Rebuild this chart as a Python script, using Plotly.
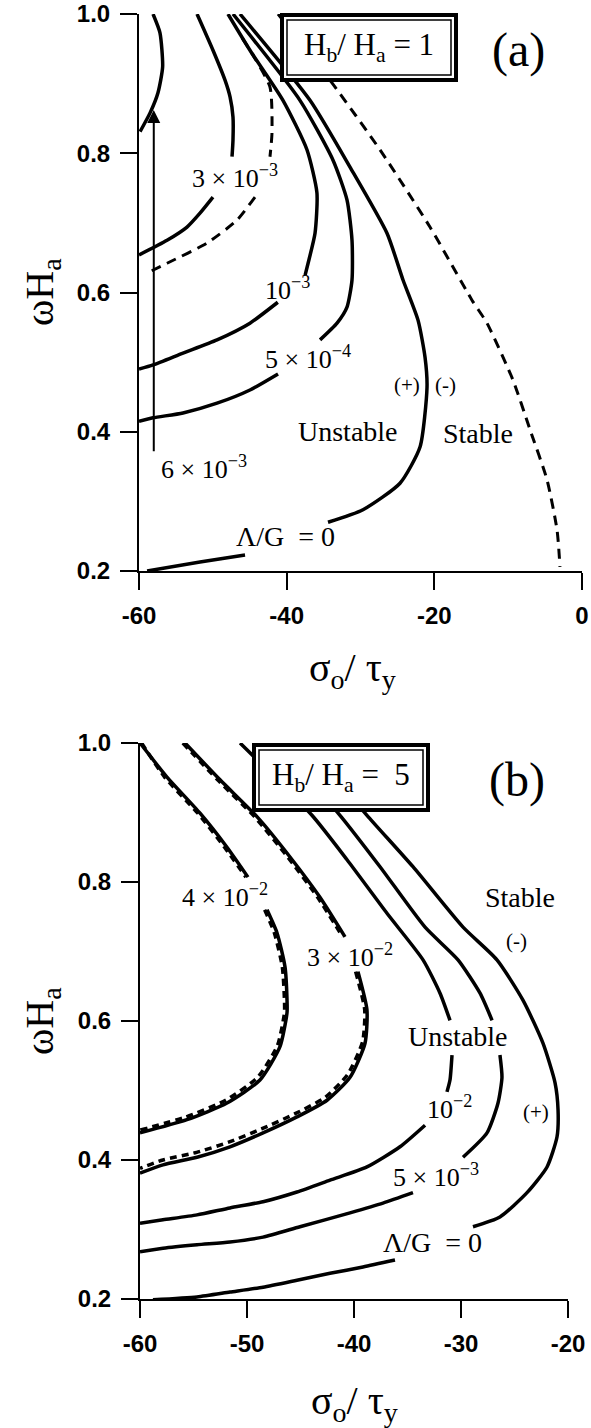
import plotly.graph_objects as go

W, H = 591, 1428

# ---- panel (a): Hb/Ha = 1 ----
a_6e3_x = [-58.1, -57.16, -56.8, -57.43, -58.5, -59.86]
a_6e3_y = [1.0, 0.973, 0.924, 0.887, 0.858, 0.831]

a_3e3_top_x = [-52.14, -49.98, -48.35, -47.67, -47.27, -47.27, -47.4]
a_3e3_top_y = [1.0, 0.948, 0.905, 0.881, 0.852, 0.819, 0.795]
a_3e3_bot_x = [-49.98, -51.74, -53.5, -56.2, -60.0]
a_3e3_bot_y = [0.737, 0.714, 0.694, 0.675, 0.654]

a_1e3_top_x = [-47.95, -44.97, -40.5, -37.25, -35.9, -36.16, -37.1, -37.5]
a_1e3_top_y = [1.0, 0.948, 0.876, 0.805, 0.743, 0.685, 0.642, 0.625]
a_1e3_bot_x = [-41.2, -44.97, -49.43, -54.04, -58.1, -60.0]
a_1e3_bot_y = [0.586, 0.556, 0.532, 0.513, 0.496, 0.490]

a_5e4_top_x = [-47.27, -38.2, -33.72, -31.83, -31.15, -31.15, -31.83, -33.18, -35.48]
a_5e4_top_y = [1.0, 0.876, 0.790, 0.733, 0.675, 0.618, 0.579, 0.556, 0.532]
a_5e4_bot_x = [-41.17, -44.97, -49.43, -54.04, -58.1, -60.0]
a_5e4_bot_y = [0.483, 0.460, 0.441, 0.427, 0.420, 0.415]

a_lg0_top_x = [-46.32, -36.84, -31.42, -26.41, -24.24, -22.2, -21.26, -20.99, -21.94, -24.65, -29.66, -34.4]
a_lg0_top_y = [1.0, 0.876, 0.780, 0.685, 0.618, 0.56, 0.507, 0.464, 0.378, 0.326, 0.288, 0.270]
a_lg0_bot_x = [-45.64, -51.74, -58.9]
a_lg0_bot_y = [0.223, 0.213, 0.200]

a_dash_l1_x = [-46.0, -44.97, -42.26, -41.99, -42.26]
a_dash_l1_y = [0.965, 0.948, 0.895, 0.829, 0.795]
a_dash_l2_x = [-44.29, -46.73, -50.79, -56.2, -58.9]
a_dash_l2_y = [0.737, 0.704, 0.671, 0.642, 0.628]

a_dash_r_x = [-41.17, -33.86, -27.36, -20.59, -14.9, -12.87, -9.34, -7.04, -4.74, -3.38, -2.98]
a_dash_r_y = [1.0, 0.901, 0.805, 0.694, 0.589, 0.556, 0.474, 0.403, 0.331, 0.259, 0.206]

arrow_x = [-58.0, -58.0]
arrow_y = [0.37, 0.862]

# ---- panel (b): Hb/Ha = 5 ----
b_4e2_top_x = [-60.0, -57.48, -54.39, -51.87, -49.91]
b_4e2_top_y = [1.0, 0.951, 0.899, 0.850, 0.807]
b_4e2_bot_x = [-48.13, -47.2, -46.45, -46.26, -46.26, -46.92, -48.79, -51.87, -55.61, -60.0]
b_4e2_bot_y = [0.760, 0.727, 0.678, 0.630, 0.612, 0.563, 0.515, 0.482, 0.458, 0.439]
b_4e2d_top_x = [-59.85, -57.7, -54.6, -52.1, -50.1]
b_4e2d_top_y = [1.0, 0.951, 0.899, 0.850, 0.807]
b_4e2d_bot_x = [-48.35, -47.45, -46.7, -46.5, -46.5, -47.15, -49.0, -52.0, -55.7, -60.0]
b_4e2d_bot_y = [0.760, 0.727, 0.678, 0.630, 0.612, 0.565, 0.519, 0.486, 0.462, 0.443]

b_3e2_top_x = [-55.79, -52.52, -49.07, -45.98, -43.18, -40.84]
b_3e2_top_y = [1.0, 0.947, 0.894, 0.836, 0.778, 0.721]
b_3e2_bot_x = [-39.63, -38.79, -38.97, -40.37, -42.52, -45.33, -48.5, -51.59, -54.67, -57.85, -60.0]
b_3e2_bot_y = [0.671, 0.616, 0.568, 0.519, 0.486, 0.462, 0.439, 0.419, 0.404, 0.393, 0.381]
b_3e2d_top_x = [-56.0, -52.75, -49.3, -46.2, -43.4, -41.05]
b_3e2d_top_y = [1.0, 0.947, 0.894, 0.836, 0.778, 0.721]
b_3e2d_bot_x = [-39.85, -39.0, -39.2, -40.6, -42.7, -45.45, -48.6, -51.65, -54.7, -57.85, -60.0]
b_3e2d_bot_y = [0.671, 0.616, 0.570, 0.523, 0.490, 0.467, 0.445, 0.426, 0.411, 0.400, 0.388]

b_1e2_p1_x = [-50.65, -43.93, -40.65, -36.92, -33.55, -31.96, -31.03]
b_1e2_p1_y = [1.0, 0.896, 0.832, 0.755, 0.688, 0.640, 0.601]
b_1e2_p2_x = [-30.84, -31.03, -31.31]
b_1e2_p2_y = [0.551, 0.515, 0.498]
b_1e2_p3_x = [-33.36, -35.7, -38.79, -42.24, -45.33, -48.5, -51.59, -54.67, -57.85, -60.0]
b_1e2_p3_y = [0.450, 0.419, 0.390, 0.371, 0.354, 0.340, 0.331, 0.321, 0.314, 0.309]

b_5e3_p1_x = [-47.38, -41.31, -37.57, -33.36, -30.28, -28.22, -27.1]
b_5e3_p1_y = [1.0, 0.896, 0.822, 0.735, 0.688, 0.640, 0.601]
b_5e3_p2_x = [-26.36, -26.17, -26.54, -27.57, -29.81]
b_5e3_p2_y = [0.551, 0.519, 0.482, 0.439, 0.404]
b_5e3_p3_x = [-34.49, -37.29, -40.37, -45.05, -48.5, -51.59, -54.67, -57.85, -60.0]
b_5e3_p3_y = [0.353, 0.338, 0.324, 0.304, 0.289, 0.282, 0.278, 0.273, 0.268]

b_lg0_p1_x = [-44.58, -38.79, -34.49, -29.81, -26.64, -24.21, -22.34, -21.21, -20.93, -21.03, -21.96, -23.83, -26.36, -28.88]
b_lg0_p1_y = [1.0, 0.896, 0.822, 0.735, 0.688, 0.630, 0.568, 0.511, 0.472, 0.433, 0.390, 0.353, 0.318, 0.304]
b_lg0_p2_x = [-36.17, -39.16, -42.24, -45.33, -48.5, -51.59, -54.67, -58.79]
b_lg0_p2_y = [0.256, 0.246, 0.237, 0.227, 0.217, 0.210, 0.203, 0.199]

y_ticks = [0.2, 0.4, 0.6, 0.8, 1.0]
y_ticktext = ["0.2", "0.4", "0.6", "0.8", "1.0"]
xa_ticks = [-60, -40, -20, 0]
xa_ticktext = ["-60", "-40", "-20", "0"]
xb_ticks = [-60, -50, -40, -30, -20]
xb_ticktext = ["-60", "-50", "-40", "-30", "-20"]


def px(x):
    return x / W


def py(y):
    return 1 - y / H


fig = go.Figure()


def line(x, y, panel, dash="solid", width=3.5):
    fig.add_trace(go.Scatter(
        x=x, y=y, mode="lines",
        xaxis="x" if panel == "a" else "x2",
        yaxis="y" if panel == "a" else "y2",
        line=dict(color="black", width=width, dash=dash, shape="spline", smoothing=0.6),
        hoverinfo="skip", showlegend=False))


# panel a
line(a_6e3_x, a_6e3_y, "a")
line(a_3e3_top_x, a_3e3_top_y, "a")
line(a_3e3_bot_x, a_3e3_bot_y, "a")
line(a_1e3_top_x, a_1e3_top_y, "a")
line(a_1e3_bot_x, a_1e3_bot_y, "a")
line(a_5e4_top_x, a_5e4_top_y, "a")
line(a_5e4_bot_x, a_5e4_bot_y, "a")
line(a_lg0_top_x, a_lg0_top_y, "a")
line(a_lg0_bot_x, a_lg0_bot_y, "a")
line(a_dash_l1_x, a_dash_l1_y, "a", dash="10px,7px", width=3)
line(a_dash_l2_x, a_dash_l2_y, "a", dash="10px,7px", width=3)
line(a_dash_r_x, a_dash_r_y, "a", dash="10px,7px", width=3)

# panel b
for xs, ys in [(b_4e2_top_x, b_4e2_top_y), (b_4e2_bot_x, b_4e2_bot_y),
               (b_3e2_top_x, b_3e2_top_y), (b_3e2_bot_x, b_3e2_bot_y),
               (b_1e2_p1_x, b_1e2_p1_y), (b_1e2_p2_x, b_1e2_p2_y), (b_1e2_p3_x, b_1e2_p3_y),
               (b_5e3_p1_x, b_5e3_p1_y), (b_5e3_p2_x, b_5e3_p2_y), (b_5e3_p3_x, b_5e3_p3_y),
               (b_lg0_p1_x, b_lg0_p1_y), (b_lg0_p2_x, b_lg0_p2_y)]:
    line(xs, ys, "b")
for xs, ys in [(b_4e2d_top_x, b_4e2d_top_y), (b_4e2d_bot_x, b_4e2d_bot_y),
               (b_3e2d_top_x, b_3e2d_top_y), (b_3e2d_bot_x, b_3e2d_bot_y)]:
    line(xs, ys, "b", dash="7px,5px", width=3.5)

serif = "Liberation Serif, Times New Roman, serif"
sans = "Liberation Sans, Arial, sans-serif"

axis_common = dict(showline=True, linewidth=2, linecolor="black", ticks="outside",
                   ticklen=17, tickwidth=2, tickcolor="black", showgrid=False,
                   zeroline=False, automargin=False, ticklabelstandoff=5,
                   tickfont=dict(family=sans, size=24, color="black", weight="bold"))

fig.update_layout(
    template="none",
    width=W, height=H, margin=dict(l=0, r=0, t=0, b=0, pad=0, autoexpand=False),
    paper_bgcolor="white", plot_bgcolor="white",
    xaxis=dict(domain=[px(139), px(582)], anchor="y", range=[-60, 0],
               tickvals=xa_ticks, ticktext=xa_ticktext, **axis_common),
    yaxis=dict(domain=[py(571), py(14)], anchor="x", range=[0.2, 1.0],
               tickvals=y_ticks, ticktext=y_ticktext, **axis_common),
    xaxis2=dict(domain=[px(140), px(568)], anchor="y2", range=[-60, -20],
                tickvals=xb_ticks, ticktext=xb_ticktext, **axis_common),
    yaxis2=dict(domain=[py(1299), py(743)], anchor="x2", range=[0.2, 1.0],
                tickvals=y_ticks, ticktext=y_ticktext, **axis_common),
)

# double-framed boxes
shapes = []
for (x0, y0, x1, y1) in [(280, 13, 458, 82), (252, 743, 430, 812)]:
    shapes.append(dict(type="rect", xref="paper", yref="paper", layer="above",
                       x0=px(x0 + 2), x1=px(x1 - 2), y0=py(y0 + 2), y1=py(y1 - 2),
                       line=dict(color="black", width=4), fillcolor="white"))
    shapes.append(dict(type="rect", xref="paper", yref="paper", layer="above",
                       x0=px(x0 + 7), x1=px(x1 - 7), y0=py(y0 + 7), y1=py(y1 - 7),
                       line=dict(color="black", width=1.5)))
fig.update_layout(shapes=shapes)


def label(text, x, y, panel, size=27):
    fig.add_annotation(text=text, x=x, y=y, showarrow=False,
                       xref="x" if panel == "a" else "x2",
                       yref="y" if panel == "a" else "y2",
                       xanchor="center", yanchor="middle",
                       font=dict(family=serif, size=size, color="black"))


def paper_text(text, x, y, size, angle=0):
    fig.add_annotation(text=text, x=px(x), y=py(y), xref="paper", yref="paper",
                       showarrow=False, xanchor="center", yanchor="middle",
                       textangle=angle,
                       font=dict(family=serif, size=size, color="black"))


# panel a labels
label("3 × 10<sup>−3</sup>", -47.0, 0.766, "a", 26)
label("10<sup>−3</sup>", -39.95, 0.606, "a", 26)
label("5 × 10<sup>−4</sup>", -37.1, 0.507, "a", 26)
label("(+)", -23.7, 0.467, "a", 21)
label("(-)", -18.55, 0.467, "a", 21)
label("Unstable", -31.7, 0.40, "a", 28)
label("Stable", -14.08, 0.398, "a", 28)
label("6 × 10<sup>−3</sup>", -51.2, 0.348, "a", 26)
label("Λ/G  = 0", -40.2, 0.249, "a", 28)

fig.add_annotation(x=arrow_x[1], y=arrow_y[1], ax=arrow_x[0], ay=arrow_y[0],
                   xref="x", yref="y", axref="x", ayref="y", text="",
                   showarrow=True, arrowhead=2, arrowsize=1.3, arrowwidth=2,
                   arrowcolor="black", standoff=0, startstandoff=0)

# panel b labels
label("4 × 10<sup>−2</sup>", -52.06, 0.781, "b", 26)
label("3 × 10<sup>−2</sup>", -40.37, 0.694, "b", 26)
label("Stable", -24.49, 0.778, "b", 28)
label("(-)", -24.77, 0.715, "b", 21)
label("Unstable", -30.28, 0.577, "b", 28)
label("10<sup>−2</sup>", -31.03, 0.476, "b", 26)
label("(+)", -22.99, 0.469, "b", 21)
label("5 × 10<sup>−3</sup>", -32.34, 0.378, "b", 26)
label("Λ/G  = 0", -32.71, 0.281, "b", 28)

# boxes text and panel letters
paper_text("H<sub>b</sub>/ H<sub>a</sub> = 1", 369, 47, 31)
paper_text("(a)", 518, 50, 48)
paper_text("H<sub>b</sub>/ H<sub>a</sub> =  5", 341, 777, 31)
paper_text("(b)", 517, 780, 48)

# axis titles
paper_text("ωH<sub>a</sub>", 42, 292, 40, -90)
paper_text("ωH<sub>a</sub>", 42, 1021, 40, -90)
paper_text("σ<sub>o</sub>/ τ<sub>y</sub>", 352, 670, 40)
paper_text("σ<sub>o</sub>/ τ<sub>y</sub>", 354, 1403, 40)

# page body has a default margin; drop it so the figure sits at the window origin
fig.write_html("out.html", config={"displayModeBar": False},
               post_script="document.body.style.margin='0px';"
                           "document.body.style.overflow='hidden';")
